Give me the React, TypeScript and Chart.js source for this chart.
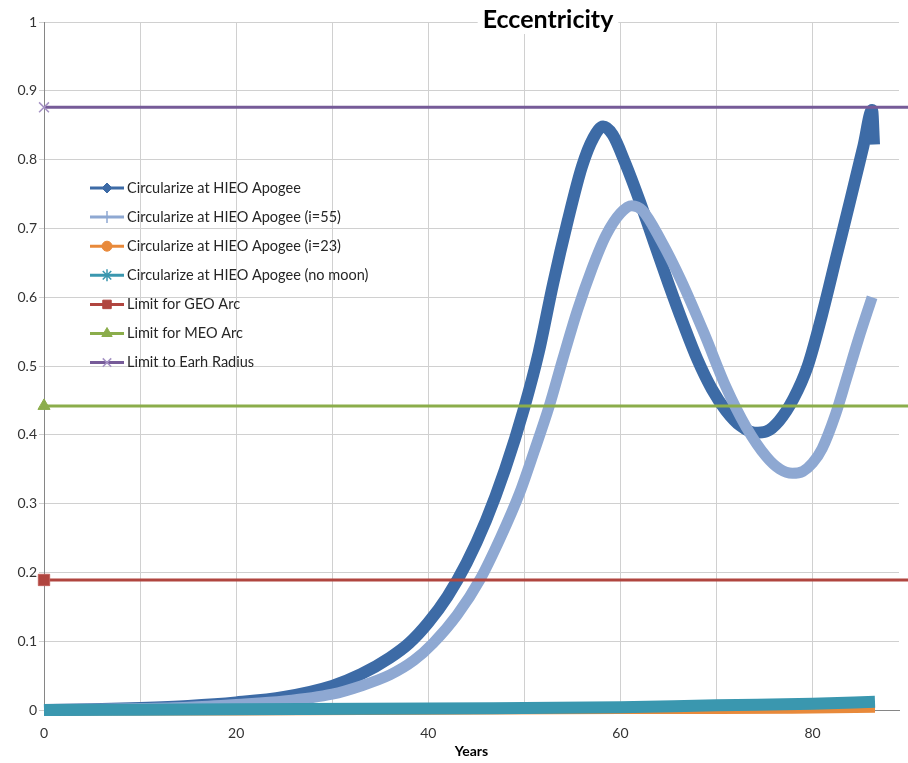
import React, { useEffect, useRef } from 'react';
import { Chart, registerables } from 'chart.js';
import { drawPoint } from 'chart.js/helpers';

Chart.register(...registerables);

const chartTitle = 'Eccentricity';
const xAxisTitle = 'Years';

const seriesNames = [
  'Circularize at HIEO Apogee',
  'Circularize at HIEO Apogee (i=55)',
  'Circularize at HIEO Apogee (i=23)',
  'Circularize at HIEO Apogee (no moon)',
  'Limit for GEO Arc',
  'Limit for MEO Arc',
  'Limit to Earh Radius',
];

// Circularize at HIEO Apogee
const hieoX = [0, 5, 10, 15, 20, 25, 30, 33, 36, 38, 40, 42, 44, 46, 48, 50, 51.5, 53, 54.5, 56, 57.2, 58.2, 59.2, 60.5, 62, 63.5, 65, 66.5, 68, 69.5, 71, 72.5, 74, 75.2, 76.5, 78, 79.5, 81, 82.5, 84, 85.3, 86.2, 86.4];
const hieoY = [0, 0.001, 0.003, 0.006, 0.011, 0.019, 0.035, 0.052, 0.076, 0.097, 0.127, 0.165, 0.214, 0.275, 0.35, 0.44, 0.52, 0.62, 0.71, 0.79, 0.832, 0.848, 0.836, 0.795, 0.74, 0.68, 0.62, 0.563, 0.51, 0.467, 0.435, 0.413, 0.403, 0.405, 0.42, 0.452, 0.5, 0.575, 0.66, 0.745, 0.82, 0.872, 0.822];

// Circularize at HIEO Apogee (i=55)
const i55X = [0, 10, 15, 20, 25, 30, 33, 36, 38.5, 40.5, 43, 45.4, 47.5, 49.5, 51, 52.6, 54, 55.5, 57, 58.5, 60, 61.2, 62.3, 64.2, 66.3, 68.7, 71, 73.1, 75.2, 76.6, 77.9, 79, 80, 81, 82.4, 83.5, 84.8, 86.2];
const i55Y = [0, 0.002, 0.004, 0.008, 0.013, 0.023, 0.035, 0.051, 0.072, 0.097, 0.138, 0.19, 0.25, 0.315, 0.375, 0.442, 0.51, 0.58, 0.64, 0.69, 0.722, 0.733, 0.726, 0.683, 0.625, 0.548, 0.469, 0.411, 0.368, 0.35, 0.344, 0.347, 0.359, 0.38, 0.43, 0.48, 0.54, 0.6];

// Circularize at HIEO Apogee (i=23)
const i23X = [0, 20, 40, 60, 70, 80, 86.5];
const i23Y = [0, 0, 0.001, 0.002, 0.002, 0.003, 0.004];

// Circularize at HIEO Apogee (no moon)
const noMoonX = [0, 20, 40, 50, 60, 70, 80, 86.5];
const noMoonY = [0, 0.001, 0.002, 0.003, 0.004, 0.007, 0.009, 0.012];

// Limits (horizontal lines)
const limitX = [0, 120];
const geoLimit = 0.189;
const meoLimit = 0.442;
const earthLimit = 0.876;

const xMin = 0;
const xMax = 89;
const xStep = 10;
const xLabelStep = 20;
const yMin = 0;
const yMax = 1;
const yStep = 0.1;

const colors = ['#3D6BA6', '#8EA8D2', '#E8893A', '#3A97AF', '#B0453F', '#8BAD4B', '#765B98'];
const pointStyles = ['rectRot', 'cross', 'circle', 'star', 'rect', 'triangle', 'crossRot'];

const toPts = (xs: number[], ys: number[]) => xs.map((x, i) => ({ x, y: ys[i] }));

export default function App() {
  const ref = useRef<HTMLCanvasElement | null>(null);

  useEffect(() => {
    document.body.style.margin = '0';
    const canvas = ref.current;
    if (!canvas) return;

    const curve = (i: number, xs: number[], ys: number[], width: number) => ({
      label: seriesNames[i],
      data: toPts(xs, ys),
      borderColor: colors[i],
      backgroundColor: colors[i],
      borderWidth: width,
      pointRadius: 0,
      pointStyle: pointStyles[i],
      cubicInterpolationMode: 'monotone',
      clip: false,
      order: -i,
    });

    const limit = (i: number, v: number, radius: number, pb: string, pbw: number) => ({
      label: seriesNames[i],
      data: toPts(limitX, limitX.map(() => v)),
      borderColor: colors[i],
      backgroundColor: colors[i],
      borderWidth: 3,
      pointStyle: pointStyles[i],
      pointRadius: (c: any) => (c.dataIndex === 0 ? radius : 0),
      pointBackgroundColor: colors[i],
      pointBorderColor: pb,
      pointBorderWidth: pbw,
      clip: false,
      order: -i,
    });

    const datasets: any[] = [
      curve(0, hieoX, hieoY, 12),
      curve(1, i55X, i55Y, 11),
      curve(2, i23X, i23Y, 11),
      curve(3, noMoonX, noMoonY, 12),
      limit(4, geoLimit, 8, '#C0605B', 1),
      limit(5, meoLimit, 7, '#8BAD4B', 1),
      limit(6, earthLimit, 7, '#A592C4', 1.5),
    ];

    const titlePlugin = {
      id: 'customTitle',
      afterDraw(chart: any) {
        const ctx = chart.ctx;
        ctx.save();
        ctx.font = 'bold 25px Lato';
        const w = ctx.measureText(chartTitle).width;
        const cx = 548;
        const cy = 20;
        ctx.fillStyle = '#ffffff';
        ctx.fillRect(cx - w / 2 - 5, cy - 14, w + 10, 28);
        ctx.fillStyle = '#000000';
        ctx.textAlign = 'center';
        ctx.textBaseline = 'middle';
        ctx.fillText(chartTitle, cx, cy);
        ctx.restore();
      },
    };

    const legendPlugin = {
      id: 'insideLegend',
      afterDraw(chart: any) {
        const ctx = chart.ctx;
        ctx.save();
        const x0 = 90;
        const x1 = 124;
        const y0 = 188;
        const dy = 29.1;
        const radii = [5, 6, 5, 6, 6, 6, 6];
        seriesNames.forEach((name, i) => {
          const y = y0 + i * dy;
          ctx.strokeStyle = colors[i];
          ctx.lineWidth = 3;
          ctx.beginPath();
          ctx.moveTo(x0, y);
          ctx.lineTo(x1, y);
          ctx.stroke();
          ctx.fillStyle = colors[i];
          ctx.strokeStyle = i === 6 ? '#A592C4' : colors[i];
          ctx.lineWidth = i === 1 || i === 3 || i === 6 ? 1.5 : 1;
          drawPoint(ctx, { pointStyle: pointStyles[i], rotation: 0, radius: radii[i], borderWidth: ctx.lineWidth } as any, (x0 + x1) / 2, y);
          ctx.fillStyle = '#262626';
          ctx.font = '14.5px Lato';
          ctx.textAlign = 'left';
          ctx.textBaseline = 'middle';
          ctx.fillText(name, x1 + 3, y);
        });
        ctx.restore();
      },
    };

    const chart = new Chart(canvas, {
      type: 'line',
      data: { datasets },
      plugins: [titlePlugin, legendPlugin],
      options: {
        responsive: false,
        animation: false,
        layout: { padding: { top: 22, right: 0, bottom: 0, left: 0 } },
        plugins: {
          legend: { display: false },
          title: { display: false },
          tooltip: { enabled: false },
        },
        scales: {
          x: {
            type: 'linear',
            min: xMin,
            max: xMax,
            afterFit: (s: any) => { s.height = 53; },
            afterBuildTicks: (s: any) => {
              s.ticks = s.ticks.filter((t: any) => Math.abs(t.value % xStep) < 1e-9);
            },
            ticks: {
              stepSize: xStep,
              autoSkip: false,
              maxRotation: 0,
              padding: 15,
              color: '#333333',
              font: { family: 'Lato', size: 14 },
              callback: (v: any) => (Math.abs(v % xLabelStep) < 1e-9 ? String(v) : ''),
            },
            grid: { color: '#D0D0D0', lineWidth: 1, drawTicks: false },
            border: { color: '#868686', width: 1 },
            title: {
              display: true,
              text: xAxisTitle,
              color: '#000000',
              font: { family: 'Lato', size: 14, weight: 'bold' },
              padding: { top: 0, bottom: 3 },
            },
          },
          y: {
            type: 'linear',
            min: yMin,
            max: yMax,
            afterFit: (s: any) => { s.width = 44; },
            ticks: {
              stepSize: yStep,
              padding: 2,
              color: '#333333',
              font: { family: 'Lato', size: 14 },
              callback: (v: any) => String(Math.round(Number(v) * 10) / 10),
            },
            grid: { color: '#D0D0D0', lineWidth: 1, tickLength: 5 },
            border: { color: '#868686', width: 1 },
          },
        },
      } as any,
    });

    return () => chart.destroy();
  }, []);

  return (
    <div style={{ width: 908, height: 763 }}>
      <canvas ref={ref} width={908} height={763} style={{ display: 'block' }} />
    </div>
  );
}
